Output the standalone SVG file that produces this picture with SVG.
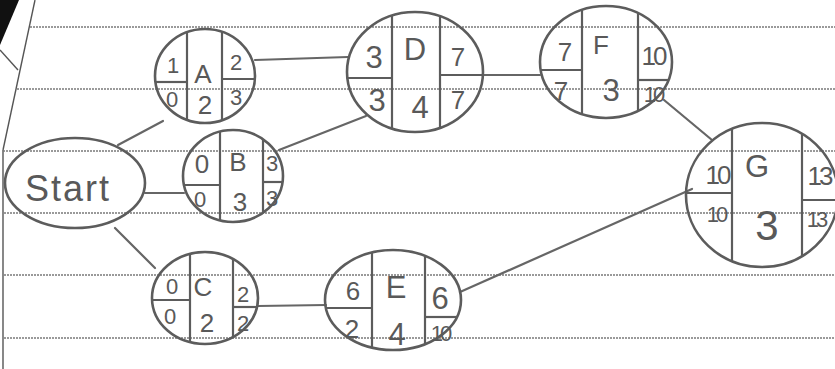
<svg xmlns="http://www.w3.org/2000/svg" width="835" height="369" viewBox="0 0 835 369">
<style>
.rule{stroke:#7a7a7a;stroke-width:1.3;stroke-dasharray:2 1;fill:none}
.paper{stroke:#555;stroke-width:1.4;fill:none}
.node{fill:none;stroke:#5c5c5c;stroke-width:2.6}
.div{stroke:#5c5c5c;stroke-width:2.2;fill:none}
.edge{stroke:#666;stroke-width:2.2;fill:none;stroke-linecap:round}
text{font-family:"Liberation Sans","DejaVu Sans",sans-serif;fill:#595959;text-anchor:middle;dominant-baseline:central}
.s{font-size:22px}
.m{font-size:26px}
.l{font-size:31px}
.n{letter-spacing:-3px}
</style>
<rect width="835" height="369" fill="#fff"/>
<g id="paper">
<polygon points="0,0 19,0 0,45" fill="#111"/>
<line class="paper" x1="35" y1="0" x2="3" y2="150"/>
<line class="paper" x1="0" y1="50" x2="18" y2="70"/>
<line class="paper" x1="3" y1="150" x2="3" y2="369"/>
<line class="rule" x1="30" y1="27" x2="835" y2="27"/>
<line class="rule" x1="17" y1="89" x2="835" y2="89"/>
<line class="rule" x1="3" y1="151" x2="835" y2="151"/>
<line class="rule" x1="4" y1="213" x2="835" y2="213"/>
<line class="rule" x1="4" y1="275" x2="835" y2="275"/>
<line class="rule" x1="4" y1="338" x2="835" y2="338"/>
</g>
<g id="connectors">
<line class="edge" x1="118" y1="145" x2="163" y2="121"/>
<line class="edge" x1="145" y1="193" x2="184" y2="193"/>
<line class="edge" x1="115" y1="228" x2="155" y2="268"/>
<line class="edge" x1="255" y1="60" x2="348" y2="57"/>
<line class="edge" x1="279" y1="150" x2="366" y2="116"/>
<line class="edge" x1="483" y1="75" x2="540" y2="75"/>
<line class="edge" x1="258" y1="306" x2="326" y2="305"/>
<line class="edge" x1="664" y1="100" x2="712" y2="140"/>
<line class="edge" x1="460" y1="292" x2="692" y2="189"/>
</g>
<g id="start">
<ellipse class="node" cx="75" cy="183" rx="70" ry="45"/>
<text x="68" y="188" style="font-size:36px;letter-spacing:2px">Start</text>
</g>
<g id="nodeA">
<ellipse class="node" cx="205" cy="76" rx="50" ry="47"/>
<line class="div" x1="187" y1="32" x2="187" y2="120"/>
<line class="div" x1="222" y1="32" x2="222" y2="120"/>
<line class="div" x1="155" y1="82" x2="187" y2="82"/>
<line class="div" x1="222" y1="79" x2="255" y2="79"/>
<text class="s" x="173" y="65">1</text>
<text class="m" x="203" y="74">A</text>
<text class="s" x="236" y="62">2</text>
<text class="s" x="172" y="99">0</text>
<text class="m" x="205" y="105">2</text>
<text class="s" x="236" y="97">3</text>
</g>
<g id="nodeB">
<ellipse class="node" cx="233" cy="176" rx="50" ry="46"/>
<line class="div" x1="220" y1="132" x2="220" y2="220"/>
<line class="div" x1="263" y1="139" x2="263" y2="213"/>
<line class="div" x1="184" y1="185" x2="220" y2="185"/>
<line class="div" x1="263" y1="182" x2="282" y2="182"/>
<text class="m" x="202" y="164">0</text>
<text class="m" x="238" y="162">B</text>
<text class="s" x="272" y="163">3</text>
<text class="s" x="200" y="199">0</text>
<text class="m" x="240" y="202">3</text>
<text class="s" x="272" y="198">3</text>
</g>
<g id="nodeC">
<ellipse class="node" cx="205" cy="298" rx="53" ry="46"/>
<line class="div" x1="190" y1="254" x2="190" y2="342"/>
<line class="div" x1="233" y1="259" x2="233" y2="337"/>
<line class="div" x1="152" y1="300" x2="190" y2="300"/>
<line class="div" x1="233" y1="307" x2="257" y2="307"/>
<text class="s" x="172" y="286">0</text>
<text class="m" x="203" y="287">C</text>
<text class="s" x="243" y="294">2</text>
<text class="s" x="170" y="316">0</text>
<text class="m" x="207" y="323">2</text>
<text class="s" x="243" y="323">2</text>
</g>
<g id="nodeD">
<ellipse class="node" cx="415" cy="72" rx="68" ry="60"/>
<line class="div" x1="392" y1="16" x2="392" y2="128"/>
<line class="div" x1="440" y1="16" x2="440" y2="128"/>
<line class="div" x1="347" y1="78" x2="392" y2="78"/>
<line class="div" x1="440" y1="75" x2="483" y2="75"/>
<text class="l" x="374" y="57">3</text>
<text class="l" x="415" y="49">D</text>
<text class="m" x="458" y="57">7</text>
<text class="l" x="377" y="100">3</text>
<text class="l" x="420" y="107">4</text>
<text class="m" x="458" y="100">7</text>
</g>
<g id="nodeF">
<ellipse class="node" cx="606" cy="62" rx="66" ry="56"/>
<line class="div" x1="582" y1="10" x2="582" y2="114"/>
<line class="div" x1="638" y1="13" x2="638" y2="111"/>
<line class="div" x1="541" y1="70" x2="582" y2="70"/>
<line class="div" x1="638" y1="80" x2="668" y2="80"/>
<text class="m" x="565" y="52">7</text>
<text class="m" x="601" y="45">F</text>
<text class="m n" x="653" y="56">10</text>
<text class="m" x="561" y="91">7</text>
<text class="l" x="611" y="90">3</text>
<text class="s n" x="653" y="94">10</text>
</g>
<g id="nodeG">
<ellipse class="node" cx="762" cy="195" rx="76" ry="72"/>
<line class="div" x1="732" y1="129" x2="732" y2="261"/>
<line class="div" x1="802" y1="134" x2="802" y2="256"/>
<line class="div" x1="686" y1="193" x2="732" y2="193"/>
<line class="div" x1="802" y1="200" x2="838" y2="200"/>
<text class="m n" x="717" y="175">10</text>
<text class="l" x="757" y="166">G</text>
<text class="m n" x="819" y="176">13</text>
<text class="s n" x="716" y="214">10</text>
<text x="767" y="225" style="font-size:42px">3</text>
<text class="s n" x="816" y="219">13</text>
</g>
<g id="nodeE">
<ellipse class="node" cx="393" cy="300" rx="68" ry="50"/>
<line class="div" x1="372" y1="253" x2="372" y2="347"/>
<line class="div" x1="425" y1="256" x2="425" y2="344"/>
<line class="div" x1="326" y1="308" x2="372" y2="308"/>
<line class="div" x1="425" y1="317" x2="457" y2="317"/>
<text class="m" x="353" y="291">6</text>
<text class="l" x="396" y="287">E</text>
<text class="l" x="440" y="298">6</text>
<text class="m" x="352" y="329">2</text>
<text class="l" x="397" y="334">4</text>
<text class="s n" x="440" y="333">10</text>
</g>
</svg>
